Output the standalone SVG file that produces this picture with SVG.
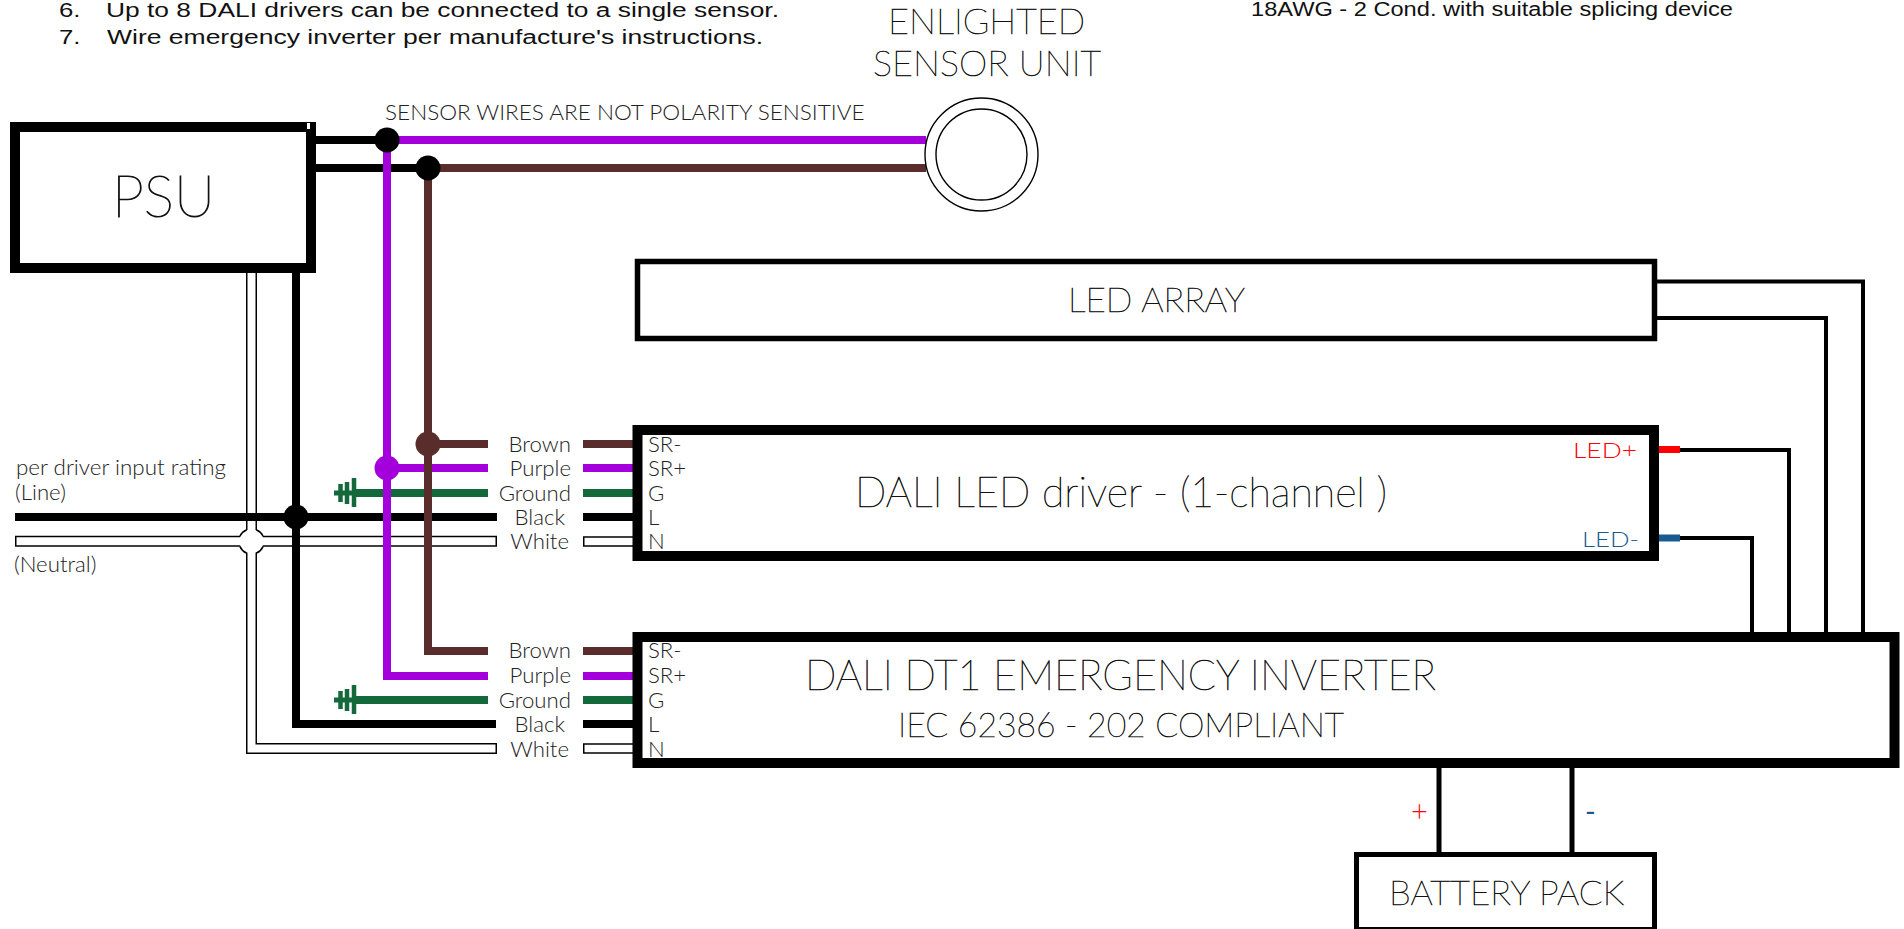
<svg xmlns="http://www.w3.org/2000/svg" width="1904" height="929" viewBox="0 0 1904 929">
<style>
text{font-family:Lato,"Open Sans","Liberation Sans",sans-serif;font-weight:300;fill:#222}
.note{font-family:"Liberation Sans",Arial,sans-serif;font-weight:400;font-size:20px;fill:#111}
.lab{font-size:22.200px}
.big{font-weight:200;fill:#000;stroke:#111;stroke-width:.6px}
.box{fill:#fff;stroke:#000}
.w{fill:none;stroke-linejoin:miter}
.k8{stroke:#000;stroke-width:8}
.k4{stroke:#000;stroke-width:4}
.k5{stroke:#000;stroke-width:5}
.p{stroke:#a400dc;stroke-width:8}
.b{stroke:#5a2d2d;stroke-width:8}
.g{stroke:#14693a;stroke-width:8}
.gt{stroke:#14693a;stroke-width:4.500}
.wo{stroke:#000;stroke-width:11}
.wi{stroke:#fff;stroke-width:8}
</style>
<rect width="1904" height="929" fill="#fff"/>
<g id="notes">
<text class="note" x="59" y="17" textLength="21.500" lengthAdjust="spacingAndGlyphs">6.</text>
<text class="note" x="106" y="17" textLength="673" lengthAdjust="spacingAndGlyphs">Up to 8 DALI drivers can be connected to a single sensor.</text>
<text class="note" x="59" y="43.500" textLength="21.500" lengthAdjust="spacingAndGlyphs">7.</text>
<text class="note" x="107" y="43.500" textLength="656" lengthAdjust="spacingAndGlyphs">Wire emergency inverter per manufacture's instructions.</text>
<text class="note" x="1251" y="16" textLength="482" lengthAdjust="spacingAndGlyphs">18AWG - 2 Cond. with suitable splicing device</text>
</g>
<g id="connectors">
<!-- neutral wires -->
<path class="w wo" d="M251.500 273V748.500H497"/>
<path class="w wo" d="M15 541.300H497"/>
<path class="w wi" d="M251.500 270V748.500H495.500"/>
<path class="w wi" d="M16.500 541.300H495.500"/>
<circle cx="251.500" cy="541.300" r="12" fill="#fff"/>
<path class="w" stroke="#000" stroke-width="1.500" d="M246.500 530 A12 12 0 0 0 240 536 M256.500 530 A12 12 0 0 1 263 536 M240 546.600 A12 12 0 0 0 246.500 553 M263 546.600 A12 12 0 0 1 256.500 553"/>
<!-- line wires -->
<path class="w k8" d="M15 517H497"/>
<path class="w k8" d="M296 270V724H496"/>
<circle cx="296" cy="517" r="12.500"/>
<!-- sensor bus -->
<path class="w k8" d="M316 140H387"/>
<path class="w k8" d="M316 168H428"/>
<path class="w p" d="M387 140H926"/>
<path class="w b" d="M428 168H926"/>
<path class="w g" d="M356 493H488"/>
<path class="w p" d="M387 140V676H488"/>
<path class="w p" d="M387 468H488"/>
<path class="w b" d="M428 168V651H488"/>
<path class="w b" d="M428 444H488"/>
<circle cx="387" cy="140" r="12.500"/>
<circle cx="428" cy="168" r="12.500"/>
<circle cx="387" cy="468" r="12.500" fill="#a400dc"/>
<circle cx="428" cy="444" r="12.500" fill="#5a2d2d"/>
<path class="w g" d="M356 700H488"/>
<path class="w" stroke="#14693a" stroke-width="5" d="M334 493H356M334 700H356"/>
<path class="w gt" d="M354 478V507M347 482V504M340.500 484V502M354 685V714M347 689V711M340.500 691V709"/>
<!-- driver side stubs -->
<path class="w b" d="M583 444H634M583 651H634"/>
<path class="w p" d="M583 468H634M583 676H634"/>
<path class="w g" d="M583 493H634M583 700H634"/>
<path class="w k8" d="M583 517H634M583 724H634"/>
<path class="w" stroke="#000" stroke-width="10.500" d="M583 541.500H634M583 748.500H634"/>
<path class="w" stroke="#fff" stroke-width="7.500" d="M584.500 541.500H634M584.500 748.500H634"/>
<!-- LED wires -->
<path class="w k4" d="M1655 281.500H1863V634"/>
<path class="w k4" d="M1655 318H1826V634"/>
<path class="w k4" d="M1680 450H1789V634"/>
<path class="w k4" d="M1680 538H1752V634"/>
<path class="w" stroke="#f00" stroke-width="7" d="M1658 449.500H1680"/>
<path class="w" stroke="#1a5a8f" stroke-width="7" d="M1658 538H1680"/>
<path class="w k5" d="M1439 766V854M1572 766V854"/>
</g>
<g id="psu">
<rect class="box" x="15" y="127" width="296" height="141" stroke-width="10"/>
<rect x="307" y="123" width="3" height="6" fill="#fff"/>
<text class="big" x="112" y="217" font-size="57" style="stroke-width:1px">PSU</text>
</g>
<g id="sensor">
<circle cx="981.500" cy="154.500" r="56.500" fill="none" stroke="#000" stroke-width="1.400"/>
<circle cx="981.500" cy="154.500" r="45.500" fill="none" stroke="#000" stroke-width="1.400"/>
<text class="big" x="986.500" y="34" font-size="36" text-anchor="middle">ENLIGHTED</text>
<text class="big" x="987" y="76" font-size="36" text-anchor="middle">SENSOR UNIT</text>
<text x="385" y="120" font-size="22" textLength="479.500" lengthAdjust="spacingAndGlyphs">SENSOR WIRES ARE NOT POLARITY SENSITIVE</text>
</g>
<g id="led-array">
<rect class="box" x="637.500" y="261.500" width="1017" height="77" stroke-width="5.500"/>
<text class="big" x="1068" y="312" font-size="33" textLength="177" lengthAdjust="spacingAndGlyphs">LED ARRAY</text>
</g>
<g id="driver">
<rect class="box" x="637.500" y="430" width="1016.500" height="126" stroke-width="10"/>
<text class="big" x="855" y="507" font-size="41" textLength="532" lengthAdjust="spacingAndGlyphs">DALI LED driver - (1-channel )</text>
<text x="648" y="452" class="lab">SR-</text>
<text x="648" y="476" class="lab">SR+</text>
<text x="648" y="501" class="lab">G</text>
<text x="648" y="525" class="lab">L</text>
<text x="648" y="549" class="lab">N</text>
<text x="1573" y="458" font-size="22" textLength="64" lengthAdjust="spacingAndGlyphs" style="fill:#f00">LED+</text>
<text x="1582" y="547" font-size="22" textLength="57" lengthAdjust="spacingAndGlyphs" style="fill:#1a5a8f">LED-</text>
</g>
<g id="inverter">
<rect class="box" x="637.500" y="637" width="1257" height="126" stroke-width="10"/>
<text class="big" x="805" y="690" font-size="41" textLength="631" lengthAdjust="spacingAndGlyphs">DALI DT1 EMERGENCY INVERTER</text>
<text class="big" x="898" y="737" font-size="33" textLength="446" lengthAdjust="spacingAndGlyphs">IEC 62386 - 202 COMPLIANT</text>
<text x="648" y="658" class="lab">SR-</text>
<text x="648" y="683" class="lab">SR+</text>
<text x="648" y="708" class="lab">G</text>
<text x="648" y="732" class="lab">L</text>
<text x="648" y="757" class="lab">N</text>
</g>
<g id="battery">
<rect class="box" x="1356.500" y="854.500" width="298" height="75" stroke-width="5"/>
<text class="big" x="1389" y="905" font-size="34" textLength="235" lengthAdjust="spacingAndGlyphs">BATTERY PACK</text>
<text x="1411" y="822" font-size="29" style="fill:#f00">+</text>
<text x="1585" y="822" font-size="29" style="fill:#1a5a8f;font-weight:400">-</text>
</g>
<g id="wire-labels">
<text x="571" y="452" class="lab" text-anchor="end">Brown</text>
<text x="571" y="476" class="lab" text-anchor="end">Purple</text>
<text x="571" y="501" class="lab" text-anchor="end">Ground</text>
<text x="565" y="525" class="lab" text-anchor="end">Black</text>
<text x="569" y="549" class="lab" text-anchor="end">White</text>
<text x="571" y="658" class="lab" text-anchor="end">Brown</text>
<text x="571" y="683" class="lab" text-anchor="end">Purple</text>
<text x="571" y="708" class="lab" text-anchor="end">Ground</text>
<text x="565" y="732" class="lab" text-anchor="end">Black</text>
<text x="569" y="757" class="lab" text-anchor="end">White</text>
<text x="16" y="475" class="lab" textLength="210" lengthAdjust="spacingAndGlyphs">per driver input rating</text>
<text x="15" y="500" class="lab">(Line)</text>
<text x="14" y="572" class="lab">(Neutral)</text>
</g>
</svg>
